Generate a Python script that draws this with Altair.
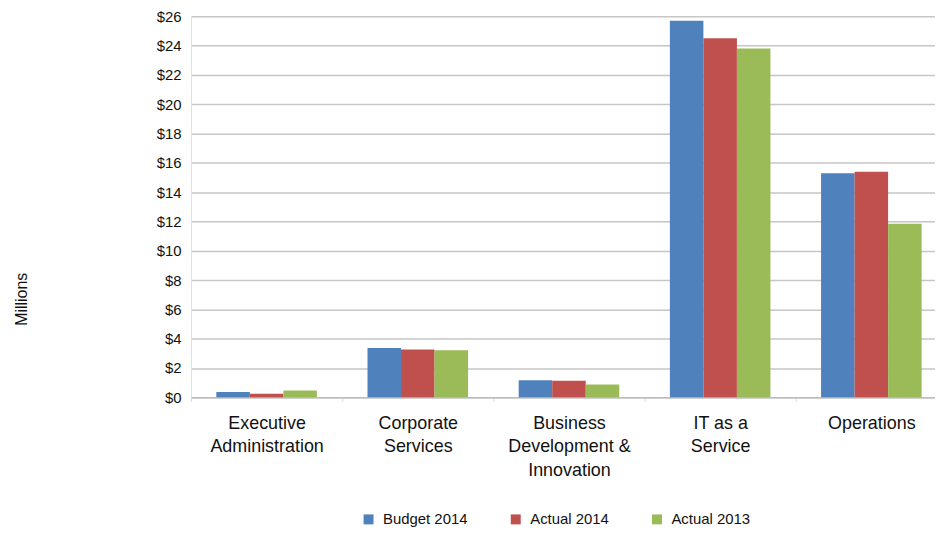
import json
import altair as alt
import pandas as pd

categories = ["Executive Administration", "Corporate Services",
              "Business Development & Innovation", "IT as a Service", "Operations"]
category_lines = [["Executive", "Administration"], ["Corporate", "Services"],
                  ["Business", "Development &", "Innovation"], ["IT as a", "Service"],
                  ["Operations"]]
series = ["Budget 2014", "Actual 2014", "Actual 2013"]
budget_2014 = [0.36, 3.37, 1.17, 25.7, 15.3]
actual_2014 = [0.25, 3.26, 1.13, 24.5, 15.4]
actual_2013 = [0.47, 3.21, 0.88, 23.8, 11.85]
y_ticks = list(range(0, 27, 2))
colors = ["#4F81BD", "#C0504D", "#9BBB59"]

rows = []
for s, vals in zip(series, [budget_2014, actual_2014, actual_2013]):
    for c, v in zip(categories, vals):
        rows.append({"category": c, "series": s, "value": v})
df = pd.DataFrame(rows)

label_map = json.dumps(dict(zip(categories, category_lines)))
FONT = "Liberation Sans Narrow, Liberation Sans, Arial, sans-serif"

chart = alt.Chart(df).mark_bar().encode(
    x=alt.X("category:N", sort=categories,
            scale=alt.Scale(range=[0, 760], paddingInner=0, paddingOuter=0),
            axis=alt.Axis(title=None, labelAngle=0, labelExpr=label_map + "[datum.value]",
                          labelFontSize=18, labelLineHeight=24, labelPadding=13,
                          labelBaseline="top", labelColor="#111111",
                          domainColor="#bdbdbd", domainWidth=1.5,
                          tickBand="extent", tickColor="#d8d8d8", tickSize=4,
                          labelFont=FONT)),
    xOffset=alt.XOffset("series:N", sort=series,
                        scale=alt.Scale(paddingInner=0, paddingOuter=0.755)),
    y=alt.Y("value:Q", scale=alt.Scale(domain=[0, 26], nice=False),
            axis=alt.Axis(values=y_ticks, labelExpr="'$' + datum.value",
                          title="Millions", titleX=-170, titleY=284, titleAngle=270,
                          titleAlign="center", titleBaseline="middle",
                          titleFontSize=16, titleFontWeight="normal", titleFont=FONT,
                          titleColor="#111111",
                          labelFontSize=15, labelFont=FONT, labelColor="#111111",
                          labelPadding=10, ticks=False,
                          domainColor="#e0e0e0", domainWidth=1,
                          gridColor="#c6c6c6", gridWidth=1.5)),
    color=alt.Color("series:N", sort=series,
                    scale=alt.Scale(domain=series, range=colors),
                    legend=alt.Legend(title=None, orient="none", legendX=171, legendY=498,
                                      direction="horizontal", columns=3, gridAlign="each",
                                      columnPadding=40, symbolType="square",
                                      symbolSize=100, symbolStrokeWidth=0,
                                      labelFontSize=15, labelFont=FONT,
                                      labelColor="#111111", labelOffset=7, padding=0)),
).properties(
    width=748, height=383,
    autosize=alt.AutoSizeParams(type="none"),
    padding={"left": 184, "top": 7, "right": 0, "bottom": 130},
).configure_view(stroke=None)

chart.save("out.html", embed_options={"renderer": "svg", "actions": False})
